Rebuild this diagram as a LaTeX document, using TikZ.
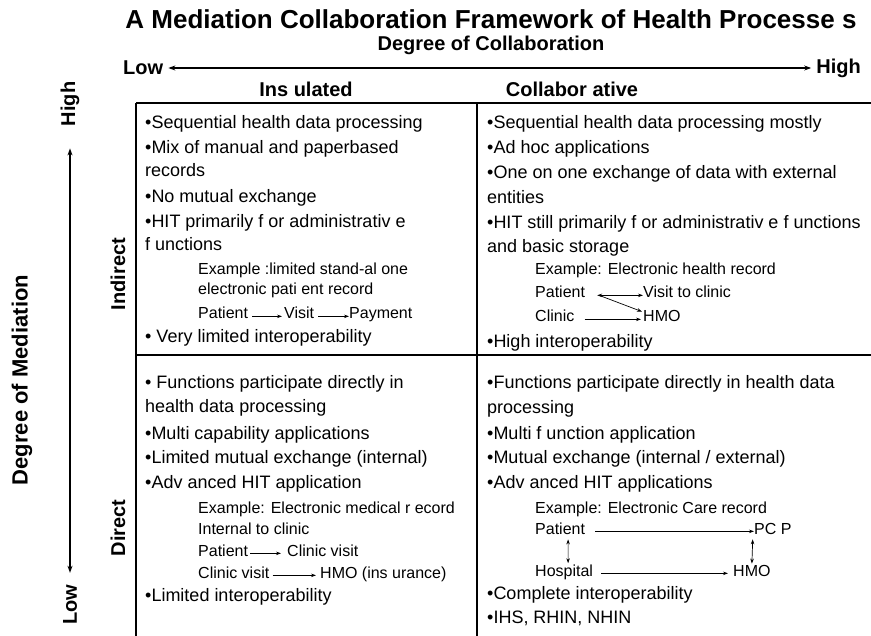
\documentclass[tikz,border=0pt]{standalone}
\usepackage{fontspec}
\setmainfont{Liberation Sans}
\usetikzlibrary{arrows.meta}

\tikzset{
  celltext/.style={anchor=base west, inner sep=0pt, font=\fontsize{18}{20}\selectfont},
  extext/.style={anchor=base west, inner sep=0pt, font=\fontsize{16}{18}\selectfont},
  heading/.style={inner sep=0pt, font=\bfseries\fontsize{20}{22}\selectfont},
  flow/.style={-{Stealth[length=5pt,width=3.5pt]}, line width=0.7pt},
  both/.style={{Stealth[length=5pt,width=3.5pt]}-{Stealth[length=5pt,width=3.5pt]}, line width=0.7pt},
  axis/.style={{Stealth[length=7pt,width=5pt]}-{Stealth[length=7pt,width=5pt]}, line width=1.1pt},
}

\begin{document}
\begin{tikzpicture}[x=1pt,y=-1pt]
	\useasboundingbox (0,0) rectangle (871,636);

	% Title and top axis
	\node[heading, font=\bfseries\fontsize{26}{28}\selectfont] (title) at (491,19) {A Mediation Collaboration Framework of Health Processe s};
	\node[heading] (collab) at (491,45) {Degree of Collaboration};
	\node[heading, anchor=west] (low) at (123,68) {Low};
	\node[heading, anchor=east] (high) at (861,68) {High};
	\draw[axis, shorten <=5pt, shorten >=5pt] (low.east) -- (low.east -| high.west);

	\node[heading] (insul) at (306,89) {Ins ulated};
	\node[heading] (collabve) at (572,89) {Collabor ative};

	% Left axis
	\node[heading, rotate=90, font=\bfseries\fontsize{22}{24}\selectfont] (mediation) at (22,380) {Degree of Mediation};
	\node[heading, rotate=90] (vhigh) at (70,104) {High};
	\node[heading, rotate=90] (vlow) at (70,605) {Low};
	\draw[axis, shorten <=22pt, shorten >=12pt] (vhigh) -- (vlow);
	\node[heading, rotate=90] (indirect) at (118,274) {Indirect};
	\node[heading, rotate=90] (direct) at (118,528) {Direct};

	% Grid
	\draw[line width=2.5pt] (136,103) -- (871,103);
	\draw[line width=2.5pt] (136,103) -- (136,636);
	\draw[line width=1.2pt] (477,103) -- (477,636);
	\draw[line width=1.2pt] (136,355) -- (871,355);

	% Insulated / indirect
	\node[celltext] (tl1) at (145,129) {•Sequential health data processing};
	\node[celltext] (tl2) at (145,154) {•Mix of manual and paperbased};
	\node[celltext] (tl3) at (145,177) {records};
	\node[celltext] (tl4) at (145,203) {•No mutual exchange};
	\node[celltext] (tl5) at (145,228) {•HIT primarily f or administrativ e};
	\node[celltext] (tl6) at (145,251) {f unctions};
	\node[extext] (tl7) at (198,275) {Example :limited stand-al one};
	\node[extext] (tl8) at (198,295) {electronic pati ent record};
	\node[extext] (tlpat) at (198,319) {Patient};
	\node[extext] (tlvis) at (284,319) {Visit};
	\node[extext] (tlpay) at (349,319) {Payment};
	\draw[flow] ([xshift=4pt]tlpat.mid east) -- ([xshift=-2pt]tlvis.mid west);
	\draw[flow] ([xshift=4pt]tlvis.mid east) -- (tlpay.mid west);
	\node[celltext] (tl9) at (145,343) {• Very limited interoperability};

	% Collaborative / indirect
	\node[celltext] (tr1) at (487,129) {•Sequential health data processing mostly};
	\node[celltext] (tr2) at (487,154) {•Ad hoc applications};
	\node[celltext] (tr3) at (487,179) {•One on one exchange of data with external};
	\node[celltext] (tr4) at (487,204) {entities};
	\node[celltext] (tr5) at (487,229) {•HIT still primarily f or administrativ e f unctions};
	\node[celltext] (tr6) at (487,253) {and basic storage};
	\node[extext] (tr7) at (535,275) {Example: Electronic health record};
	\node[extext] (trpat) at (535,298) {Patient};
	\node[extext] (trvis) at (643,298) {Visit to clinic};
	\node[extext] (trcli) at (535,322) {Clinic};
	\node[extext] (trhmo) at (643,322) {HMO};
	\draw[both] ([xshift=12pt]trpat.mid east) -- (trvis.mid west);
	\draw[flow] ([xshift=10pt]trcli.mid east) -- ([xshift=-2pt]trhmo.mid west);
	\draw[flow] ([xshift=14pt]trpat.mid east) -- ([xshift=-1pt,yshift=-1pt]trhmo.north west);
	\node[celltext] (tr8) at (487,348) {•High interoperability};

	% Insulated / direct
	\node[celltext] (bl1) at (145,389) {• Functions participate directly in};
	\node[celltext] (bl2) at (145,413) {health data processing};
	\node[celltext] (bl3) at (145,439) {•Multi capability applications};
	\node[celltext] (bl4) at (145,464) {•Limited mutual exchange (internal)};
	\node[celltext] (bl5) at (145,489) {•Adv anced HIT application};
	\node[extext] (bl6) at (198,513) {Example: Electronic medical r ecord};
	\node[extext] (bl7) at (198,534) {Internal to clinic};
	\node[extext] (blpat) at (198,556) {Patient};
	\node[extext] (blvis) at (287,556) {Clinic visit};
	\draw[flow] ([xshift=2pt]blpat.mid east) -- ([xshift=-6pt]blvis.mid west);
	\node[extext] (blvis2) at (198,578) {Clinic visit};
	\node[extext] (blhmo) at (320,578) {HMO (ins urance)};
	\draw[flow] ([xshift=3pt]blvis2.mid east) -- ([xshift=-4pt]blhmo.mid west);
	\node[celltext] (bl8) at (145,601) {•Limited interoperability};

	% Collaborative / direct
	\node[celltext] (br1) at (487,389) {•Functions participate directly  in health data};
	\node[celltext] (br2) at (487,414) {processing};
	\node[celltext] (br3) at (487,439) {•Multi f unction application};
	\node[celltext] (br4) at (487,464) {•Mutual exchange (internal / external)};
	\node[celltext] (br5) at (487,489) {•Adv anced HIT applications};
	\node[extext] (br6) at (535,513) {Example: Electronic Care record};
	\node[extext] (brpat) at (535,534) {Patient};
	\node[extext] (brpcp) at (754,534) {PC P};
	\node[extext] (brhos) at (535,576) {Hospital};
	\node[extext] (brhmo) at (733,576) {HMO};
	\draw[flow] ([xshift=10pt]brpat.mid east) -- (brpcp.mid west);
	\draw[flow] ([xshift=8pt]brhos.mid east) -- ([xshift=-5pt]brhmo.mid west);
	\draw[both, shorten <=5pt, shorten >=1pt] ([xshift=8pt]brpat.south) -- ([xshift=4pt]brhos.north);
	\draw[both, shorten <=5pt, shorten >=1pt] ([xshift=-20pt]brpcp.south) -- (brhmo.north);
	\node[celltext] (br7) at (487,599) {•Complete interoperability};
	\node[celltext] (br8) at (487,623) {•IHS, RHIN, NHIN};
\end{tikzpicture}
\end{document}
